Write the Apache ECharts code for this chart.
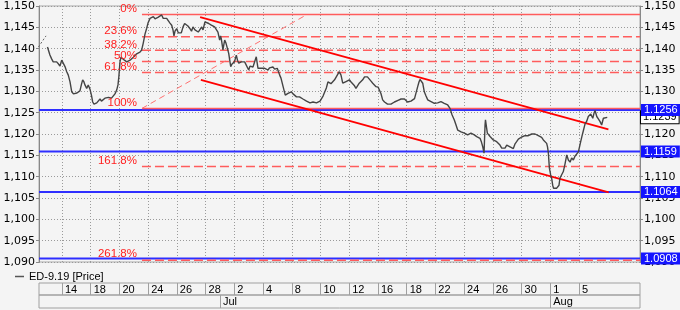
<!DOCTYPE html>
<html><head><meta charset="utf-8">
<script src="https://cdn.jsdelivr.net/npm/echarts@6/dist/echarts.min.js"></script>
<style>html,body{margin:0;padding:0;background:#f4f4f4}#c{width:680px;height:310px}</style>
</head><body><div id="c"></div>
<script>
// x = trading-day index (0 = Jun 14, 2019)
const xMin = -1.60, xMax = 40.25;
const pricePoints = [[-1.01,1.1404],[-0.84,1.1385],[-0.72,1.1376],[-0.61,1.1369],[-0.49,1.1365],[-0.37,1.1369],[-0.24,1.1364],[-0.14,1.1359],[-0.02,1.1373],[0.09,1.1369],[0.21,1.1358],[0.33,1.1346],[0.44,1.1338],[0.56,1.1322],[0.68,1.1299],[0.80,1.1294],[0.91,1.1291],[1.04,1.1296],[1.15,1.1294],[1.25,1.1301],[1.36,1.1317],[1.44,1.1327],[1.53,1.1322],[1.60,1.1315],[1.72,1.1307],[1.83,1.1315],[1.95,1.1305],[2.05,1.1291],[2.14,1.1275],[2.23,1.1270],[2.30,1.1270],[2.42,1.1273],[2.54,1.1277],[2.65,1.1282],[2.75,1.1277],[2.88,1.1280],[2.99,1.1284],[3.11,1.1282],[3.24,1.1286],[3.34,1.1287],[3.45,1.1284],[3.57,1.1287],[3.69,1.1294],[3.81,1.1303],[3.90,1.1315],[3.96,1.1334],[4.04,1.1369],[4.11,1.1380],[4.23,1.1380],[4.35,1.1373],[4.51,1.1369],[4.63,1.1371],[4.74,1.1373],[4.84,1.1369],[4.97,1.1380],[5.08,1.1378],[5.20,1.1388],[5.33,1.1385],[5.43,1.1392],[5.55,1.1397],[5.66,1.1413],[5.78,1.1434],[5.90,1.1448],[5.99,1.1460],[6.13,1.1471],[6.23,1.1474],[6.36,1.1475],[6.48,1.1470],[6.58,1.1467],[6.71,1.1474],[6.82,1.1472],[6.94,1.1479],[7.05,1.1471],[7.17,1.1467],[7.29,1.1471],[7.40,1.1470],[7.52,1.1460],[7.64,1.1455],[7.73,1.1444],[7.80,1.1430],[7.87,1.1441],[7.99,1.1447],[8.10,1.1437],[8.22,1.1437],[8.31,1.1437],[8.43,1.1451],[8.54,1.1459],[8.66,1.1463],[8.77,1.1453],[8.89,1.1448],[9.02,1.1441],[9.12,1.1451],[9.26,1.1444],[9.35,1.1440],[9.49,1.1439],[9.59,1.1437],[9.73,1.1451],[9.82,1.1444],[9.96,1.1463],[10.05,1.1463],[10.22,1.1459],[10.40,1.1455],[10.52,1.1458],[10.63,1.1451],[10.75,1.1447],[10.86,1.1439],[10.98,1.1420],[11.04,1.1430],[11.09,1.1424],[11.21,1.1397],[11.28,1.1411],[11.33,1.1420],[11.42,1.1413],[11.51,1.1409],[11.61,1.1389],[11.75,1.1358],[11.84,1.1364],[11.91,1.1362],[12.01,1.1369],[12.07,1.1369],[12.14,1.1385],[12.22,1.1373],[12.31,1.1366],[12.40,1.1369],[12.49,1.1369],[12.60,1.1366],[12.72,1.1369],[12.83,1.1366],[13.00,1.1350],[13.09,1.1359],[13.18,1.1358],[13.30,1.1357],[13.42,1.1354],[13.53,1.1381],[13.58,1.1369],[13.65,1.1354],[13.75,1.1357],[13.88,1.1354],[14.00,1.1357],[14.12,1.1354],[14.24,1.1352],[14.35,1.1350],[14.45,1.1355],[14.58,1.1354],[14.69,1.1357],[14.81,1.1352],[14.90,1.1356],[14.99,1.1354],[15.16,1.1338],[15.25,1.1331],[15.32,1.1327],[15.46,1.1303],[15.55,1.1291],[15.63,1.1294],[15.74,1.1295],[15.84,1.1298],[15.97,1.1299],[16.09,1.1294],[16.20,1.1291],[16.33,1.1287],[16.43,1.1284],[16.54,1.1287],[16.66,1.1287],[16.78,1.1282],[16.90,1.1280],[17.03,1.1277],[17.13,1.1276],[17.27,1.1273],[17.36,1.1272],[17.48,1.1275],[17.60,1.1276],[17.72,1.1273],[17.83,1.1272],[17.97,1.1277],[18.06,1.1280],[18.18,1.1289],[18.25,1.1295],[18.41,1.1308],[18.52,1.1322],[18.73,1.1318],[18.85,1.1319],[18.98,1.1327],[19.08,1.1331],[19.22,1.1341],[19.31,1.1346],[19.43,1.1338],[19.55,1.1319],[19.67,1.1322],[19.78,1.1323],[19.88,1.1327],[20.01,1.1327],[20.13,1.1322],[20.24,1.1319],[20.37,1.1313],[20.47,1.1307],[20.58,1.1313],[20.70,1.1319],[20.82,1.1322],[20.94,1.1327],[21.07,1.1334],[21.17,1.1338],[21.27,1.1334],[21.40,1.1331],[21.52,1.1324],[21.64,1.1319],[21.76,1.1315],[21.87,1.1311],[22.01,1.1310],[22.10,1.1311],[22.21,1.1295],[22.33,1.1280],[22.46,1.1275],[22.56,1.1272],[22.67,1.1270],[22.79,1.1268],[22.91,1.1270],[23.03,1.1272],[23.15,1.1275],[23.26,1.1276],[23.40,1.1279],[23.49,1.1280],[23.61,1.1282],[23.73,1.1284],[23.85,1.1282],[23.96,1.1280],[24.06,1.1275],[24.19,1.1272],[24.30,1.1277],[24.42,1.1280],[24.55,1.1283],[24.65,1.1287],[24.77,1.1311],[24.86,1.1322],[24.93,1.1328],[25.03,1.1324],[25.12,1.1319],[25.23,1.1299],[25.35,1.1289],[25.47,1.1280],[25.59,1.1279],[25.70,1.1276],[25.81,1.1275],[25.93,1.1272],[26.04,1.1274],[26.16,1.1273],[26.29,1.1276],[26.39,1.1276],[26.51,1.1274],[26.62,1.1272],[26.74,1.1270],[26.86,1.1268],[27.02,1.1260],[27.16,1.1245],[27.32,1.1233],[27.44,1.1221],[27.56,1.1209],[27.68,1.1207],[27.79,1.1205],[27.90,1.1204],[28.02,1.1202],[28.13,1.1200],[28.25,1.1198],[28.38,1.1200],[28.48,1.1202],[28.60,1.1199],[28.71,1.1198],[28.88,1.1194],[29.00,1.1193],[29.11,1.1190],[29.21,1.1181],[29.30,1.1170],[29.39,1.1155],[29.46,1.1221],[29.49,1.1233],[29.53,1.1237],[29.62,1.1202],[29.70,1.1200],[29.81,1.1194],[29.91,1.1191],[30.03,1.1186],[30.15,1.1184],[30.27,1.1182],[30.38,1.1178],[30.50,1.1174],[30.62,1.1167],[30.73,1.1163],[30.85,1.1167],[30.97,1.1174],[31.08,1.1172],[31.20,1.1170],[31.32,1.1166],[31.43,1.1166],[31.55,1.1177],[31.66,1.1182],[31.78,1.1188],[31.89,1.1190],[32.01,1.1193],[32.12,1.1194],[32.24,1.1196],[32.36,1.1194],[32.47,1.1196],[32.59,1.1198],[32.71,1.1200],[32.82,1.1199],[32.94,1.1200],[33.06,1.1198],[33.17,1.1196],[33.29,1.1194],[33.40,1.1192],[33.52,1.1186],[33.64,1.1184],[33.75,1.1178],[33.81,1.1170],[33.87,1.1155],[33.94,1.1120],[34.03,1.1104],[34.10,1.1096],[34.17,1.1080],[34.23,1.1073],[34.33,1.1071],[34.45,1.1073],[34.56,1.1069],[34.61,1.1080],[34.68,1.1097],[34.80,1.1100],[34.91,1.1112],[35.03,1.1130],[35.15,1.1151],[35.26,1.1139],[35.38,1.1134],[35.49,1.1144],[35.61,1.1139],[35.72,1.1148],[35.84,1.1151],[35.96,1.1158],[36.04,1.1160],[36.12,1.1182],[36.21,1.1195],[36.30,1.1207],[36.42,1.1223],[36.54,1.1230],[36.65,1.1241],[36.77,1.1245],[36.82,1.1247],[36.96,1.1237],[37.05,1.1249],[37.12,1.1255],[37.24,1.1241],[37.36,1.1235],[37.47,1.1229],[37.58,1.1221],[37.70,1.1237],[37.81,1.1237],[37.97,1.1239]];
const gapPoints = [[-1.64,1.1404],[-1.11,1.1430]];
const lastPrice = 1.1239;

const dayTickPos = [0,2,4,6,8,10,12,14,16,18,20,22,24,26,28,30,32,34,36];
const dayTickLabels = ['14','18','20','24','26','28','2','4','8','10','12','16','18','22','24','26','30','1','5'];
const monthTickPos = [11,34];
const monthTickLabels = ['Jul','Aug'];

const yMin = 1.090, yMax = 1.150, yStep = 0.005;

const supportLevels = [1.1256, 1.1159, 1.1064, 1.0908];

const fibNames  = ['0%','23.6%','38.2%','50%','61.8%','100%','161.8%','261.8%'];
const fibLevels = [1.1480, 1.1428, 1.1396, 1.1370, 1.1344, 1.1260, 1.1124, 1.0904];
const fibSolid  = [true,false,false,false,false,true,false,false];
const fibAnchorLow  = [5.57, 1.1260];
const fibAnchorHigh = [17.06, 1.1480];

const channelUpper = [[9.62, 1.1474], [38.05, 1.1211]];
const channelLower = [[9.67, 1.1327], [38.07, 1.1063]];

const FONT = 'DejaVu Sans';
const FONT2 = 'Liberation Sans';
const chart = echarts.init(document.getElementById('c'), null, {renderer: 'canvas'});

const supportSeries = supportLevels.map(v => ({
  type: 'line', silent: true, symbol: 'none', z: 3,
  data: [[xMin, v], [xMax, v]],
  lineStyle: {color: '#2e2eff', width: 2}
}));
const fibSeries = fibLevels.map((lv, i) => ({
  type: 'line', silent: true, symbol: 'none', z: 4,
  data: [[fibAnchorLow[0], lv], [xMax, lv]],
  lineStyle: {color: '#ff5c5c', width: 1.5, type: fibSolid[i] ? 'solid' : [9, 4]}
}));

const option = {
  backgroundColor: '#f4f4f4',
  animation: false,
  legend: {
    data: ['ED-9.19 [Price]'], left: 10, top: 266, icon: 'rect', itemWidth: 9, itemHeight: 1.5,
    textStyle: {fontFamily: FONT2, fontSize: 11, color: '#000'}
  },
  grid: [
    {left: 39, top: 6, width: 601, height: 256, show: true, borderColor: '#a8a8a8', borderWidth: 1, backgroundColor: 'transparent', outerBoundsMode: 'none'},
    {left: 39, top: 283, width: 601, height: 12, show: true, borderColor: '#a0a0a0', borderWidth: 1, outerBoundsMode: 'none'},
    {left: 39, top: 295, width: 601, height: 13, show: true, borderColor: '#a0a0a0', borderWidth: 1, outerBoundsMode: 'none'}
  ],
  xAxis: [
    {type: 'value', gridIndex: 0, min: xMin, max: xMax,
     axisLine: {show: false, onZero: false}, axisLabel: {show: false},
     axisTick: {show: false, customValues: dayTickPos},
     splitLine: {show: true, lineStyle: {color: '#9a9a9a', type: [1, 2]}}},
    {type: 'value', gridIndex: 1, min: xMin, max: xMax, position: 'top',
     axisLine: {show: false, onZero: false}, splitLine: {show: false},
     axisTick: {show: true, inside: true, length: 12, customValues: dayTickPos, lineStyle: {color: '#a0a0a0'}},
     axisLabel: {show: true, inside: true, customValues: dayTickPos, margin: 1, align: 'left', padding: [0, 0, 0, 3],
       fontFamily: FONT2, fontSize: 11, color: '#000',
       formatter: v => dayTickLabels[dayTickPos.indexOf(v)] || ''}},
    {type: 'value', gridIndex: 2, min: xMin, max: xMax, position: 'top',
     axisLine: {show: false, onZero: false}, splitLine: {show: false},
     axisTick: {show: true, inside: true, length: 13, customValues: monthTickPos, lineStyle: {color: '#a0a0a0'}},
     axisLabel: {show: true, inside: true, customValues: monthTickPos, margin: 1, align: 'left', padding: [0, 0, 0, 3],
       fontFamily: FONT2, fontSize: 11, color: '#000',
       formatter: v => monthTickLabels[monthTickPos.indexOf(v)] || ''}}
  ],
  yAxis: [
    {type: 'value', gridIndex: 0, position: 'left', min: yMin, max: yMax, interval: yStep,
     axisLine: {show: true, onZero: false, lineStyle: {color: '#888'}},
     axisTick: {show: true, length: 3, lineStyle: {color: '#888'}},
     axisLabel: {fontFamily: FONT, fontSize: 11, color: '#000', margin: 4,
       formatter: v => v.toFixed(3).replace('.', ',')},
     splitLine: {show: true, lineStyle: {color: '#9a9a9a', type: [1, 2]}}},
    {type: 'value', gridIndex: 0, position: 'right', min: yMin, max: yMax, interval: yStep,
     axisLine: {show: true, onZero: false, lineStyle: {color: '#888'}},
     axisTick: {show: true, length: 3, lineStyle: {color: '#888'}},
     axisLabel: {fontFamily: FONT, fontSize: 11, color: '#000', margin: 4,
       formatter: v => v.toFixed(3).replace('.', ',')},
     splitLine: {show: false}},
    {type: 'value', gridIndex: 1, show: false},
    {type: 'value', gridIndex: 2, show: false}
  ],
  series: [
    ...supportSeries,
    ...fibSeries,
    {type: 'line', silent: true, symbol: 'none', z: 4, data: [fibAnchorLow, fibAnchorHigh],
     lineStyle: {color: '#ff7070', width: 1, type: [6, 4]}},
    {type: 'scatter', silent: true, symbolSize: 0, z: 6, itemStyle: {opacity: 1},
     data: fibLevels.map((lv, i) => ({value: [fibAnchorLow[0], lv], name: fibNames[i]})),
     label: {show: true, position: 'left', distance: 5, offset: [0, -6], formatter: p => p.name,
             color: '#ff2020', fontFamily: FONT2, fontSize: 11.5}},
    {type: 'line', silent: true, symbol: 'none', z: 4, data: channelUpper,
     lineStyle: {color: '#ff0000', width: 1.8}},
    {type: 'line', silent: true, symbol: 'none', z: 4, data: channelLower,
     lineStyle: {color: '#ff0000', width: 1.8}},
    {type: 'line', silent: true, symbol: 'none', z: 5, data: gapPoints,
     lineStyle: {color: '#666', width: 1, type: [2, 2]}},
    {name: 'ED-9.19 [Price]', type: 'line', symbol: 'none', z: 5, data: pricePoints,
     itemStyle: {color: '#555'},
     lineStyle: {color: '#444', width: 1.4}},
    {type: 'scatter', silent: true, symbolSize: 0, z: 7, clip: false, itemStyle: {opacity: 1},
     data: [[xMax, lastPrice]],
     label: {show: true, position: 'right', distance: 1, formatter: p => p.value[1].toFixed(4),
             backgroundColor: '#fff', borderColor: '#000', borderWidth: 1, color: '#000',
             padding: [1, 2, 0, 2], fontFamily: FONT2, fontSize: 11}},
    {type: 'scatter', silent: true, symbolSize: 0, z: 8, clip: false, itemStyle: {opacity: 1},
     data: supportLevels.map(v => [xMax, v]),
     label: {show: true, position: 'right', distance: 1, formatter: p => p.value[1].toFixed(4),
             backgroundColor: '#1414ff', color: '#fff',
             padding: [1, 3, 0, 3], fontFamily: FONT2, fontSize: 11}}
  ]
};
chart.setOption(option);
</script>
</body></html>
